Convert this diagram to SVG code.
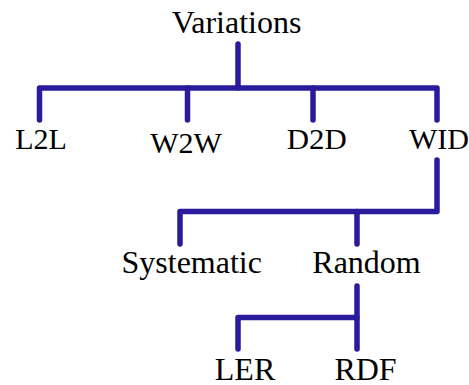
<svg xmlns="http://www.w3.org/2000/svg" width="469" height="385" viewBox="0 0 469 385">
  <style>
    .bg { fill: #ffffff; }
    .wire { fill: none; stroke: #2a1a9c; stroke-width: 5.5; stroke-linecap: round; stroke-linejoin: round; }
  </style>
  <rect class="bg" x="0" y="0" width="469" height="385"/>

  <g id="connectors">
    <!-- root trunk and first-level bus -->
    <path class="wire" d="M238 44 V88"/>
    <path class="wire" d="M39.5 120 V88 H437 V120"/>
    <path class="wire" d="M187.5 88 V120"/>
    <path class="wire" d="M313 88 V120"/>
    <!-- WID branch -->
    <path class="wire" d="M437 160 V211.5 H180 V244"/>
    <path class="wire" d="M357 211.5 V244"/>
    <!-- Random branch -->
    <path class="wire" d="M357 286 V349"/>
    <path class="wire" d="M357 317.5 H238 V349"/>
  </g>

  <g font-family="Liberation Serif, Times New Roman, serif" fill="#000000" text-anchor="middle">
    <g id="node-variations"><text x="236.5" y="33" font-size="32">Variations</text></g>
    <g id="node-l2l"><text x="41" y="148.5" font-size="30">L2L</text></g>
    <g id="node-w2w"><text x="186" y="153" font-size="30">W2W</text></g>
    <g id="node-d2d"><text x="316.7" y="148.5" font-size="30" textLength="60" lengthAdjust="spacingAndGlyphs">D2D</text></g>
    <g id="node-wid"><text x="439" y="148.5" font-size="30">WID</text></g>
    <g id="node-systematic"><text x="191.7" y="273" font-size="32">Systematic</text></g>
    <g id="node-random"><text x="366.5" y="273" font-size="32">Random</text></g>
    <g id="node-ler"><text x="245" y="380" font-size="32">LER</text></g>
    <g id="node-rdf"><text x="365.5" y="380" font-size="32">RDF</text></g>
  </g>
</svg>
